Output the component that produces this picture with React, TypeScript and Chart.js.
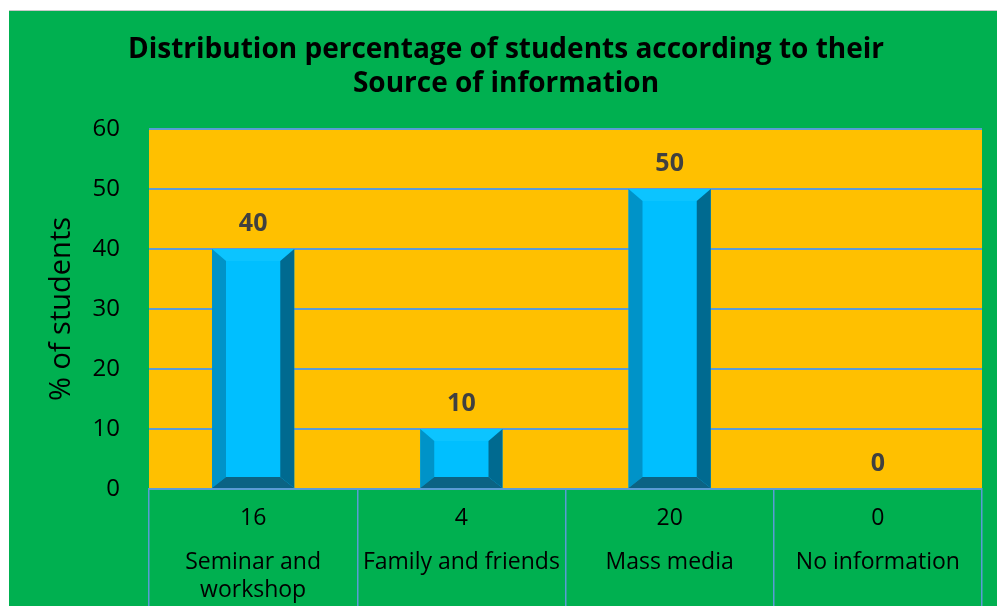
import React, { useEffect, useRef } from "react";
import { Chart, registerables } from "chart.js";

Chart.register(...registerables);

const categories = ["Seminar and workshop", "Family and friends", "Mass media", "No information"];
const categoryLines = [["Seminar and", "workshop"], ["Family and friends"], ["Mass media"], ["No information"]];
const percentages = [40, 10, 50, 0];
const counts = [16, 4, 20, 0];
const titleLines = ["Distribution percentage of students according to their", "Source of information"];
const yAxisTitle = "% of students";

const GREEN = "#00B050";
const GOLD = "#FFC000";
const GRID = "#5B9BD5";
const FONT = "'Open Sans', 'Noto Sans', sans-serif";

const bevelPlugin = {
  id: "bevelBars",
  afterDatasetsDraw(chart: any) {
    const meta = chart.getDatasetMeta(0);
    const ctx = chart.ctx;
    meta.data.forEach((bar: any) => {
      const { x, y, base, width } = bar.getProps(["x", "y", "base", "width"], true);
      const h = base - y;
      if (h < 1) return;
      const L = x - width / 2;
      const R = x + width / 2;
      const T = y;
      const B = base;
      const b = 14;
      const bt = Math.min(12, h / 3);
      const bb = Math.min(11, h / 3);
      const poly = (pts: number[][], color: string) => {
        ctx.beginPath();
        ctx.moveTo(pts[0][0], pts[0][1]);
        for (let i = 1; i < pts.length; i++) ctx.lineTo(pts[i][0], pts[i][1]);
        ctx.closePath();
        ctx.fillStyle = color;
        ctx.fill();
      };
      ctx.save();
      poly([[L, T], [R, T], [R, B], [L, B]], "#00BFFF");
      poly([[L, T], [R, T], [R - b, T + bt], [L + b, T + bt]], "#0CC4FF");
      poly([[L, T], [L + b, T + bt], [L + b, B - bb], [L, B]], "#0093C8");
      poly([[R, T], [R - b, T + bt], [R - b, B - bb], [R, B]], "#006A90");
      poly([[L, B], [L + b, B - bb], [R - b, B - bb], [R, B]], "#0B6384");
      ctx.restore();
    });
    // value labels
    ctx.save();
    ctx.font = `bold 25px ${FONT}`;
    ctx.fillStyle = "#404040";
    ctx.textAlign = "center";
    ctx.textBaseline = "middle";
    meta.data.forEach((bar: any, i: number) => {
      const { x, y } = bar.getProps(["x", "y"], true);
      ctx.fillText(String(percentages[i]), x, y - 25);
    });
    ctx.restore();
  },
  afterDraw(chart: any) {
    const ctx = chart.ctx;
    const xs = chart.scales.x;
    const area = chart.chartArea;
    ctx.save();
    ctx.fillStyle = "#000000";
    ctx.textAlign = "center";
    ctx.textBaseline = "middle";
    categories.forEach((_c, i) => {
      const cx = xs.getPixelForValue(i);
      ctx.font = `23px ${FONT}`;
      ctx.fillText(String(counts[i]), cx, area.bottom + 29);
      categoryLines[i].forEach((line, j) => {
        ctx.fillText(line, cx, area.bottom + 73 + j * 28);
      });
    });
    ctx.restore();
  },
};

const bgPlugin = {
  id: "bgFill",
  beforeDraw(chart: any) {
    const ctx = chart.ctx;
    const a = chart.chartArea;
    ctx.save();
    ctx.fillStyle = GREEN;
    ctx.fillRect(0, 0, chart.width, chart.height);
    ctx.fillStyle = GOLD;
    ctx.fillRect(a.left, a.top, a.right - a.left, a.bottom - a.top);
    ctx.restore();
  },
};

export default function App() {
  const ref = useRef<HTMLCanvasElement>(null);
  useEffect(() => {
    if (!ref.current) return;
    const chart = new Chart(ref.current, {
      type: "bar",
      data: {
        labels: categories,
        datasets: [
          {
            data: percentages,
            backgroundColor: "rgba(0,0,0,0)",
            borderWidth: 0,
            categoryPercentage: 1,
            barPercentage: 0.395,
          },
        ],
      },
      options: {
        animation: false,
        responsive: true,
        maintainAspectRatio: false,
        layout: { padding: { left: 21, right: 15, top: 0, bottom: 0 } },
        plugins: {
          legend: { display: false },
          tooltip: { enabled: false },
          title: {
            display: true,
            text: titleLines,
            color: "#000000",
            font: { family: FONT, size: 28, weight: "bold", lineHeight: 1.18 },
            padding: { top: 23, bottom: 29 },
          },
        },
        scales: {
          x: {
            grid: {
              offset: true,
              drawOnChartArea: false,
              drawTicks: true,
              tickLength: 117,
              color: GRID,
              lineWidth: 1.5,
            },
            border: { display: true, color: GRID, width: 2 },
            ticks: { display: false },
          },
          y: {
            min: 0,
            max: 60,
            afterFit: (scale: any) => {
              scale.width = 119;
            },
            ticks: {
              stepSize: 10,
              color: "#000000",
              padding: 29,
              font: { family: FONT, size: 24 },
            },
            grid: { color: GRID, lineWidth: 2, drawTicks: false },
            border: { display: false },
            title: {
              display: true,
              text: yAxisTitle,
              color: "#000000",
              font: { family: FONT, size: 29 },
              padding: { top: 14, bottom: 0 },
            },
          },
        },
      },
      plugins: [bgPlugin, bevelPlugin],
    });
    return () => chart.destroy();
  }, []);
  return (
    <div style={{ position: "fixed", left: 9, top: 10, width: 988, height: 596, borderTop: "1px solid #c8c8c8", boxSizing: "border-box" }}>
      <canvas ref={ref} />
    </div>
  );
}
